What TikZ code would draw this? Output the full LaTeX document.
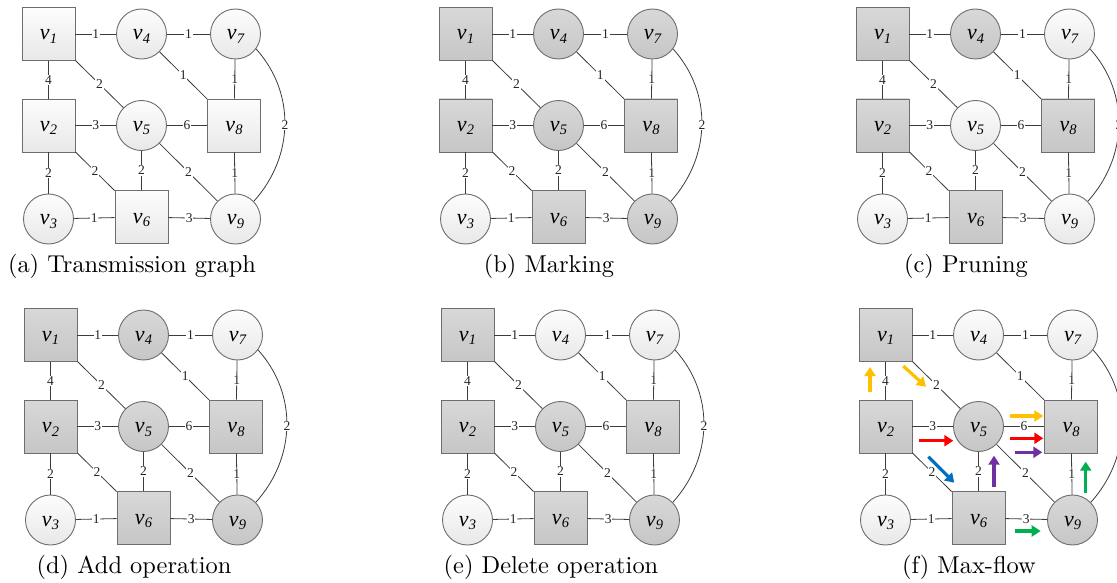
\documentclass[tikz,border=0pt]{standalone}
\usepackage{fontspec}
\usetikzlibrary{arrows.meta}
\newfontfamily\tnr{Liberation Serif}
\definecolor{nodeborder}{HTML}{6E6E6E}
\definecolor{edgecol}{HTML}{3C3C3C}
\definecolor{wtop}{HTML}{FDFDFD}
\definecolor{wbot}{HTML}{E8E8E8}
\definecolor{gtop}{HTML}{D8D8D8}
\definecolor{gbot}{HTML}{C6C6C6}
\definecolor{fgold}{HTML}{FFC000}
\definecolor{fred}{HTML}{FF0000}
\definecolor{fpurple}{HTML}{7030A0}
\definecolor{fblue}{HTML}{0070C0}
\definecolor{fgreen}{HTML}{00B050}
\newcommand\lab[1]{{\fontsize{22}{22}\selectfont\tnr\itshape v}{\fontsize{14.5}{14.5}\selectfont\tnr\itshape\raisebox{-3.5pt}{#1}}}
\tikzset{
  basenode/.style={draw=nodeborder, line width=0.9pt, inner sep=0pt, text height=14pt, text depth=2pt},
  sq/.style={basenode, rectangle, minimum size=53pt},
  ci/.style={basenode, circle, minimum size=50pt},
  wn/.style={top color=wtop, bottom color=wbot},
  gn/.style={top color=gtop, bottom color=gbot},
  ed/.style={draw=edgecol, line width=0.8pt},
  el/.style={fill=white, inner sep=0.8pt, text=black!85, font=\tnr\fontsize{13.5}{13.5}\selectfont},
  captext/.style={anchor=base, scale=2.44, font=\fontsize{10}{12}\selectfont},
  flow/.style={line width=3.2pt, -{Triangle[length=9pt,width=11pt]}}
}
\newcommand\graphnodes[9]{
  \node[sq,#1] (v1) at (48.5,-34) {\lab{1}};
  \node[sq,#2] (v2) at (48.5,-125.5) {\lab{2}};
  \node[ci,#3] (v3) at (48.5,-219) {\lab{3}};
  \node[ci,#4] (v4) at (141.5,-34) {\lab{4}};
  \node[ci,#5] (v5) at (141.5,-125.5) {\lab{5}};
  \node[sq,#6] (v6) at (141.5,-217) {\lab{6}};
  \node[ci,#7] (v7) at (235.5,-34) {\lab{7}};
  \node[sq,#8] (v8) at (234,-125.5) {\lab{8}};
  \node[ci,#9] (v9) at (235.5,-219) {\lab{9}};
}
\newcommand\graphedges{
  \draw[ed] (v1) -- node[el]{1} (v4);
  \draw[ed] (v4) -- node[el]{1} (v7);
  \draw[ed] (v1) -- node[el]{4} (v2);
  \draw[ed] (v1) -- node[el]{2} (v5);
  \draw[ed] (v4) -- node[el]{1} (v8);
  \draw[ed] (v7) -- node[el]{1} (v8);
  \draw[ed] (v7.-36) to[out=-48,in=48] node[el]{2} (v9.44);
  \draw[ed] (v2) -- node[el]{3} (v5);
  \draw[ed] (v5) -- node[el]{6} (v8);
  \draw[ed] (v2) -- node[el]{2} (v3);
  \draw[ed] (v2) -- node[el]{2} (v6);
  \draw[ed] (v5) -- node[el]{2} (v6);
  \draw[ed] (v5) -- node[el]{2} (v9);
  \draw[ed] (v8) -- node[el]{1} (v9);
  \draw[ed] (v3) -- node[el]{1} (v6);
  \draw[ed] (v6) -- node[el]{3} (v9);
}
\begin{document}
\begin{tikzpicture}[x=1pt,y=1pt]
\clip (0,0) rectangle (1117,-583);
\fill[white] (0,0) rectangle (1117,-583);
% (a)
\begin{scope}[shift={(0,0)}, name prefix=a-]
  \graphnodes{wn}{wn}{wn}{wn}{wn}{wn}{wn}{wn}{wn}
  \graphedges
  \node[captext] (caption) at (132,-272) {(a) Transmission graph};
\end{scope}
% (b)
\begin{scope}[shift={(417,0)}, name prefix=b-]
  \graphnodes{gn}{gn}{wn}{gn}{gn}{gn}{gn}{gn}{gn}
  \graphedges
  \node[captext] (caption) at (132,-272) {(b) Marking};
\end{scope}
% (c)
\begin{scope}[shift={(834,0)}, name prefix=c-]
  \graphnodes{gn}{gn}{wn}{gn}{wn}{gn}{wn}{gn}{wn}
  \graphedges
  \node[captext] (caption) at (132,-272) {(c) Pruning};
\end{scope}
% (d)
\begin{scope}[shift={(2,-301)}, name prefix=d-]
  \graphnodes{gn}{gn}{wn}{gn}{gn}{gn}{wn}{gn}{gn}
  \graphedges
  \node[captext] (caption) at (132,-272) {(d) Add operation};
\end{scope}
% (e)
\begin{scope}[shift={(419,-301)}, name prefix=e-]
  \graphnodes{gn}{gn}{wn}{wn}{gn}{gn}{wn}{gn}{gn}
  \graphedges
  \node[captext] (caption) at (132,-272) {(e) Delete operation};
\end{scope}
% (f)
\begin{scope}[shift={(837,-301)}, name prefix=f-]
  \graphnodes{gn}{gn}{wn}{wn}{gn}{gn}{wn}{gn}{gn}
  \graphedges
  \node[captext] (caption) at (132,-272) {(f) Max-flow};
  \coordinate (o1s) at (33,-90.7);   \coordinate (o1e) at (33,-66);
  \coordinate (o2s) at (66.3,-65);   \coordinate (o2e) at (89,-85.7);
  \coordinate (o3s) at (173,-115);   \coordinate (o3e) at (206.3,-115);
  \coordinate (r1s) at (82.3,-139.7); \coordinate (r1e) at (116.3,-139.7);
  \coordinate (r2s) at (173,-137.3); \coordinate (r2e) at (206.3,-137.3);
  \coordinate (p1s) at (178,-151.3); \coordinate (p1e) at (205.3,-151.3);
  \coordinate (p2s) at (157,-185.7); \coordinate (p2e) at (157,-154.7);
  \coordinate (b1s) at (91.3,-155.7); \coordinate (b1e) at (117.3,-181.7);
  \coordinate (g1s) at (248.7,-192.3); \coordinate (g1e) at (248.7,-160.7);
  \coordinate (g2s) at (178,-230);   \coordinate (g2e) at (203.7,-230);
  \draw[flow, fgold] (o1s) -- (o1e);
  \draw[flow, fgold] (o2s) -- (o2e);
  \draw[flow, fgold] (o3s) -- (o3e);
  \draw[flow, fred] (r1s) -- (r1e);
  \draw[flow, fred] (r2s) -- (r2e);
  \draw[flow, fpurple] (p1s) -- (p1e);
  \draw[flow, fpurple] (p2s) -- (p2e);
  \draw[flow, fblue] (b1s) -- (b1e);
  \draw[flow, fgreen] (g1s) -- (g1e);
  \draw[flow, fgreen] (g2s) -- (g2e);
\end{scope}
\end{tikzpicture}
\end{document}
